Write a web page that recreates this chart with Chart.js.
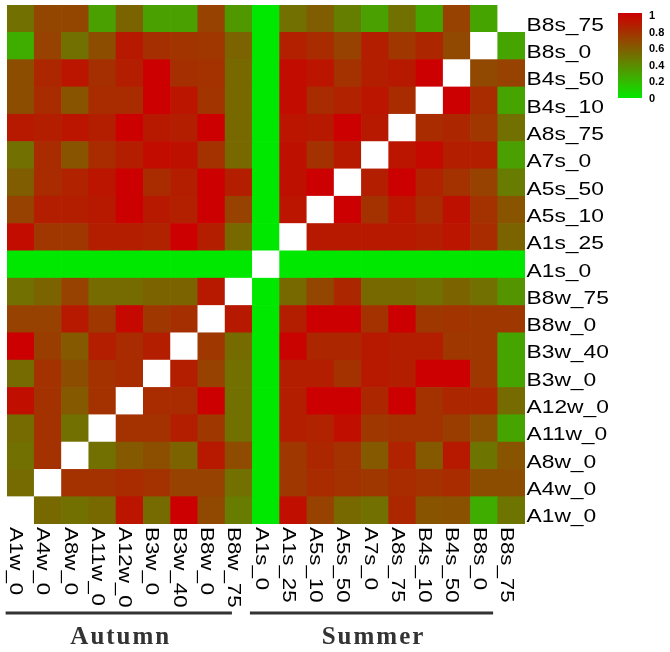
<!DOCTYPE html>
<html>
<head>
<meta charset="utf-8">
<script src="https://cdn.jsdelivr.net/npm/chart.js@4.4.1/dist/chart.umd.min.js"></script>
<style>
  body { margin: 0; background: #fff; }
  #wrap { width: 670px; height: 652px; position: relative; }
</style>
</head>
<body>
<div id="wrap"><canvas id="myChart"></canvas></div>
<script>
// sample labels, bottom row / left column first
const labels = ["A1w_0", "A4w_0", "A8w_0", "A11w_0", "A12w_0", "B3w_0", "B3w_40", "B8w_0", "B8w_75",
  "A1s_0", "A1s_25", "A5s_10", "A5s_50", "A7s_0", "A8s_75", "B4s_10", "B4s_50", "B8s_0", "B8s_75"];

// one row per sample (same order as labels), null = diagonal
const rowA1w_0  = [null, 0.53, 0.5, 0.53, 0.9, 0.52, 1.0, 0.67, 0.45, 0, 0.93, 0.7, 0.53, 0.5, 0.82, 0.62, 0.63, 0.25, 0.48];
const rowA4w_0  = [0.52, null, 0.77, 0.77, 0.8, 0.77, 0.7, 0.7, 0.5, 0, 0.74, 0.8, 0.77, 0.74, 0.8, 0.77, 0.8, 0.65, 0.65];
const rowA8w_0  = [0.5, 0.77, null, 0.5, 0.6, 0.64, 0.56, 0.88, 0.66, 0, 0.74, 0.82, 0.77, 0.6, 0.84, 0.6, 0.88, 0.48, 0.62];
const rowA11w_0 = [0.52, 0.77, 0.5, null, 0.77, 0.77, 0.86, 0.74, 0.5, 0, 0.86, 0.84, 0.93, 0.74, 0.77, 0.77, 0.72, 0.63, 0.28];
const rowA12w_0 = [0.93, 0.77, 0.6, 0.77, null, 0.8, 0.8, 1.0, 0.5, 0, 0.86, 1.0, 1.0, 0.82, 1.0, 0.77, 0.82, 0.82, 0.52];
const rowB3w_0  = [0.52, 0.77, 0.65, 0.77, 0.8, null, 0.86, 0.7, 0.5, 0, 0.86, 0.86, 0.77, 0.88, 0.86, 1.0, 1.0, 0.74, 0.28];
const rowB3w_40 = [1.0, 0.72, 0.6, 0.86, 0.8, 0.86, null, 0.74, 0.52, 0, 0.98, 0.82, 0.82, 0.88, 0.86, 0.86, 0.74, 0.74, 0.28];
const rowB8w_0  = [0.7, 0.7, 0.88, 0.74, 0.96, 0.74, 0.78, null, 0.88, 0, 0.86, 1.0, 1.0, 0.77, 1.0, 0.74, 0.76, 0.74, 0.74];
const rowB8w_75 = [0.5, 0.55, 0.7, 0.52, 0.52, 0.55, 0.55, 0.88, null, 0, 0.53, 0.68, 0.82, 0.53, 0.53, 0.5, 0.55, 0.5, 0.35];
const rowA1s_0  = [0, 0, 0, 0, 0, 0, 0, 0, 0, null, 0, 0, 0, 0, 0, 0, 0, 0, 0];
const rowA1s_25 = [0.94, 0.75, 0.75, 0.86, 0.86, 0.84, 1.0, 0.86, 0.53, 0, null, 0.88, 0.88, 0.88, 0.88, 0.86, 0.9, 0.8, 0.55];
const rowA5s_10 = [0.7, 0.86, 0.86, 0.88, 1.0, 0.88, 0.85, 1.0, 0.7, 0, 0.9, null, 1.0, 0.77, 0.9, 0.8, 0.92, 0.77, 0.62];
const rowA5s_50 = [0.58, 0.8, 0.84, 0.9, 1.0, 0.8, 0.86, 1.0, 0.86, 0, 0.92, 1.0, null, 0.86, 1.0, 0.84, 0.77, 0.7, 0.45];
const rowA7s_0  = [0.5, 0.8, 0.62, 0.8, 0.86, 0.94, 0.92, 0.77, 0.53, 0, 0.92, 0.77, 0.88, null, 0.9, 0.96, 0.86, 0.86, 0.3];
const rowA8s_75 = [0.88, 0.86, 0.9, 0.86, 1.0, 0.88, 0.86, 1.0, 0.53, 0, 0.9, 0.88, 1.0, 0.88, null, 0.8, 0.82, 0.75, 0.5];
const rowB4s_10 = [0.65, 0.8, 0.62, 0.8, 0.8, 1.0, 0.9, 0.76, 0.53, 0, 0.94, 0.8, 0.84, 0.9, 0.8, null, 1.0, 0.8, 0.28];
const rowB4s_50 = [0.65, 0.82, 0.9, 0.78, 0.86, 1.0, 0.78, 0.77, 0.53, 0, 0.94, 0.9, 0.77, 0.86, 0.88, 1.0, null, 0.67, 0.7];
const rowB8s_0  = [0.25, 0.7, 0.5, 0.65, 0.88, 0.78, 0.76, 0.75, 0.55, 0, 0.85, 0.8, 0.7, 0.86, 0.75, 0.82, 0.67, null, 0.28];
const rowB8s_75 = [0.5, 0.68, 0.68, 0.3, 0.55, 0.3, 0.3, 0.7, 0.33, 0, 0.5, 0.58, 0.44, 0.3, 0.5, 0.28, 0.7, 0.28, null];

const rows = [rowA1w_0, rowA4w_0, rowA8w_0, rowA11w_0, rowA12w_0, rowB3w_0, rowB3w_40, rowB8w_0, rowB8w_75,
  rowA1s_0, rowA1s_25, rowA5s_10, rowA5s_50, rowA7s_0, rowA8s_75, rowB4s_10, rowB4s_50, rowB8s_0, rowB8s_75];

// colour bar ticks
const legendTicks = [0, 0.2, 0.4, 0.6, 0.8, 1];

// groups under the x labels (in column units)
const groupNames = ["Autumn", "Summer"];
const groupFrom = [-0.55, 8.41];
const groupTo = [7.75, 17.33];

//green -> red
function valueColor(v) {
  if (v === null) return "#ffffff";
  const r = Math.round(204 * Math.pow(v, 0.85));
  const g = Math.round(232 * Math.pow(1 - v, 1.05));
  return `rgb(${r},${g},0)`;
}

function stretchedText(ctx, text, x, y, sx, angle) {
  ctx.save();
  ctx.translate(x, y);
  if (angle) ctx.rotate(angle);
  ctx.scale(sx, 1);
  ctx.fillText(text, 0, 0);
  ctx.restore();
}

const decorPlugin = {
  id: "decor",
  afterDraw(chart) {
    const { ctx, chartArea, scales } = chart;
    const xs = scales.x;
    const ys = scales.y;
    const cellW = (chartArea.right - chartArea.left) / labels.length;

    ctx.save();
    ctx.fillStyle = "#000";
    ctx.textAlign = "left";
    ctx.textBaseline = "alphabetic";

    //right labels
    ctx.font = '19px "Liberation Sans", Arial, sans-serif';
    labels.forEach((lab, i) => {
      const yc = ys.getPixelForValue(i + 0.5);
      stretchedText(ctx, lab, chartArea.right + 1.5, yc + 12, 1.2, 0);
    });

    //bottom labels (rotated clockwise)
    ctx.font = '18px "Liberation Sans", Arial, sans-serif';
    labels.forEach((lab, i) => {
      const xc = xs.getPixelForValue(i);
      stretchedText(ctx, lab, xc - 10.5, chartArea.bottom + 3, 1.24, Math.PI / 2);
    });

    //group lines + names
    ctx.strokeStyle = "#333";
    ctx.fillStyle = "#333";
    ctx.lineWidth = 3;
    ctx.font = 'bold 25px "Liberation Serif", "Times New Roman", serif';
    ctx.textAlign = "center";
    ctx.textBaseline = "middle";
    ctx.letterSpacing = "2px";
    groupNames.forEach((name, g) => {
      const x1 = chartArea.left + (groupFrom[g] + 0.5) * cellW;
      const x2 = chartArea.left + (groupTo[g] + 0.5) * cellW;
      ctx.beginPath();
      ctx.moveTo(x1, 613);
      ctx.lineTo(x2, 613);
      ctx.stroke();
      ctx.fillText(name, (x1 + x2) / 2 + 2, 638);
    });
    ctx.letterSpacing = "0px";

    //colour bar
    const barX = 618, barW = 24, barTop = 13, barBot = 98;
    const grad = ctx.createLinearGradient(0, barBot, 0, barTop);
    for (let k = 0; k <= 10; k++) grad.addColorStop(k / 10, valueColor(k / 10));
    ctx.fillStyle = grad;
    ctx.fillRect(barX, barTop, barW, barBot - barTop);

    ctx.fillStyle = "#000";
    ctx.font = 'bold 11px "Liberation Sans", Arial, sans-serif';
    ctx.textAlign = "left";
    ctx.textBaseline = "middle";
    legendTicks.forEach((t) => {
      const y = 99 - t * 83;
      ctx.fillText(String(t), 649, y);
    });
    ctx.restore();
  },
};

const datasets = rows.map((row, i) => ({
  label: labels[i],
  data: labels.map(() => 1),
  backgroundColor: row.map(valueColor),
  borderWidth: 0,
  barPercentage: 1,
  categoryPercentage: 1,
}));

const config = {
  type: "bar",
  data: { labels: labels, datasets: datasets },
  options: {
    responsive: true,
    maintainAspectRatio: false,
    animation: false,
    layout: { padding: { left: 7, top: 5, right: 145, bottom: 128 } },
    scales: {
      x: { stacked: true, display: false },
      y: { stacked: true, display: false, min: 0, max: labels.length },
    },
    plugins: {
      legend: { display: false },
      title: { display: false },
      tooltip: { enabled: false },
    },
  },
  plugins: [decorPlugin],
};

const ctx = document.getElementById("myChart").getContext("2d");
new Chart(ctx, config);
</script>
</body>
</html>
